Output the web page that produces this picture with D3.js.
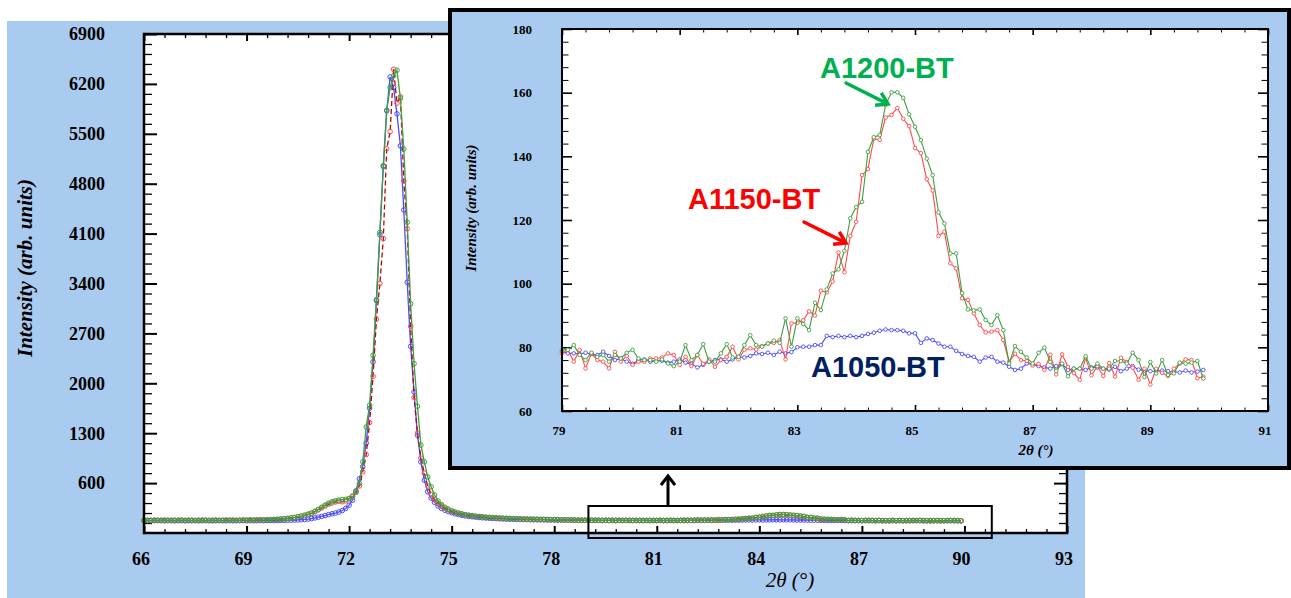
<!DOCTYPE html>
<html><head><meta charset="utf-8">
<script src="https://cdn.jsdelivr.net/npm/d3@7"></script>
<style>body{margin:0;background:#fff;} svg{display:block;}</style>
</head><body>
<svg id="chart" width="1291" height="598"></svg>
<script>
// ---------- DATA ----------
// 2θ scan grid: 66.0 .. 89.9 in 0.1° steps
const twoTheta = d3.range(660, 900).map(i => i / 10);

const intensityA1050 = [
72,73,71,72,74,72,71,73,72,71,
72,73,71,72,72,73,71,72,73,72,
71,72,73,72,71,73,72,72,73,74,
72,73,72,73,74,73,74,75,75,76,
77,78,79,80,82,84,87,90,95,103,
112,122,133,145,158,170,180,195,215,245,
290,360,490,660,830,1160,1650,2300,3160,4086,
5042,5822,6298,6148,5780,5332,4432,3418,2518,1878,
1272,898,642,478,390,330,280,245,220,200,
185,170,158,148,140,133,127,122,117,113,
110,107,104,101,99,97,95,93,92,91,
90,89,88,87,86,85,84,84,83,82,
82,81,81,80,80,79,79,79,78,78,
78.6,78.1,78.1,77.9,78.3,77.9,77.6,78.6,77.3,76.0,
76.5,75.5,74.8,76.0,76.2,75.5,75.8,75.8,75.2,75.5,
76.2,75.2,74.8,73.7,74.5,75.5,76.0,76.2,75.5,76.2,
77.0,76.8,77.3,78.1,77.9,78.3,77.6,78.6,78.1,78.5,
80.0,80.2,80.2,80.7,80.7,83.6,83.2,83.6,83.2,83.6,
83.2,83.6,84.2,84.6,85.2,85.6,85.4,85.4,85.2,84.4,
84.4,81.4,82.8,82.3,81.2,80.2,80.2,78.9,77.9,77.3,
77.0,75.5,76.8,77.0,75.5,75.2,73.9,72.9,73.3,74.9,
74.7,74.1,73.7,73.3,74.1,74.7,72.9,73.3,73.3,72.9,
73.7,73.7,73.3,73.0,73.9,72.5,73.3,74.1,73.0,72.7,
72.5,72.5,72.7,72.5,72.4,72.1,72.7,72.1,72.4,72.9
];

const intensityA1150 = [
80,76,78,81,77,79,82,78,76,80,
79,82,77,78,80,77,79,78,81,76,
78,80,77,79,81,78,80,79,77,81,
80,82,81,83,84,85,85,87,89,92,
95,99,104,110,116,125,135,147,160,176,
198,225,252,280,305,320,335,345,338,350,
380,420,470,560,760,1000,1450,2100,2900,3400,
4030,5290,5530,6406,5930,6020,4840,4170,2800,1800,
1300,950,740,560,440,370,320,280,250,225,
205,190,176,165,155,147,140,134,129,125,
121,117,114,111,109,106,104,102,100,98,
97,95,94,93,92,91,90,89,88,87,
86,85,84,83,82,82,81,80,79,79,
78.1,79.2,75.5,79.2,73.4,78.1,76.0,75.5,73.4,78.6,
75.5,77.3,74.5,75.5,75.5,76.5,76.5,76.8,78.1,77.6,
74.5,77.0,74.1,77.6,74.8,76.2,73.9,76.0,77.0,80.2,
76.2,79.2,79.7,79.3,80.4,81.2,81.4,82.3,76.2,87.5,
87.7,88.5,91.3,90.0,97.8,97.3,100.7,109.8,103.6,115.0,
119.4,134.1,136.0,145.5,145.2,152.2,153.0,155.2,151.8,149.5,
142.6,141.0,132.8,129.3,115.0,116.3,106.4,104.8,95.4,94.9,
90.7,87.0,84.7,84.9,85.4,82.3,75.5,78.0,76.0,75.7,
74.3,74.8,72.9,77.7,71.5,77.8,73.8,71.9,69.8,76.7,
71.2,74.1,71.0,75.1,70.8,76.7,75.4,73.6,69.8,73.3,
68.3,73.3,72.0,71.0,73.3,74.9,76.2,76.0,70.3,70.8
];

const intensityA1200 = [
78,80,77,79,81,78,76,79,80,77,
78,79,77,80,78,76,79,81,78,77,
79,80,78,77,80,81,79,78,80,82,
81,83,82,84,85,84,86,88,90,93,
96,100,105,112,118,128,138,150,165,180,
205,232,262,292,318,338,352,362,368,372,
385,408,480,596,898,1388,1692,2392,3172,4118,
5052,5832,6150,6312,6392,6000,5286,4258,3116,2276,
1678,1132,898,688,548,432,350,300,262,235,
212,195,180,168,158,150,143,137,132,127,
123,119,116,113,110,108,106,104,102,100,
98,97,96,95,94,93,92,91,90,89,
88,87,86,85,84,83,82,81,80,80,
79.2,79.2,80.7,77.6,76.0,78.3,77.0,77.6,75.5,77.6,
76.5,78.3,79.2,76.5,76.0,76.0,75.5,76.2,74.9,74.1,
75.5,80.7,76.0,77.6,81.0,75.5,75.5,78.1,81.0,76.8,
77.0,80.7,83.8,80.7,80.2,81.2,82.1,81.4,89.1,80.2,
89.1,87.3,85.4,94.0,91.7,98.2,103.2,104.5,110.3,120.5,
124.1,125.7,141.4,146.0,146.7,156.1,160.1,160.1,158.4,153.2,
149.3,145.1,139.3,134.1,122.4,118.9,109.5,109.5,97.0,91.9,
91.6,91.9,88.6,87.0,90.1,85.4,74.9,80.4,78.6,76.8,
74.9,78.3,79.9,75.4,72.6,74.9,70.9,73.3,73.3,77.2,
73.3,74.9,73.3,73.3,75.7,75.7,74.9,78.3,76.0,70.7,
75.4,71.8,76.0,71.3,71.8,75.2,74.9,75.2,75.7,70.2
];

const seriesNames = ["A1050-BT", "A1150-BT", "A1200-BT"];

// tick labels
const mainXTicks = [66, 69, 72, 75, 78, 81, 84, 87, 90, 93];
const mainYTicks = [600, 1300, 2000, 2700, 3400, 4100, 4800, 5500, 6200, 6900];
const insetXTicks = [79, 81, 83, 85, 87, 89, 91];
const insetYTicks = [60, 80, 100, 120, 140, 160, 180];

// ---------- DRAW ----------
const svg = d3.select("#chart");
const BG = "#a9cbef";
const SERIF = "'Liberation Serif','Times New Roman',serif";
const SANS = "'Liberation Sans',Arial,sans-serif";

const colors = {
  "A1050-BT": "#4b4bff",
  "A1150-BT": "#ff4a4a",
  "A1200-BT": "#3f9f3f"
};
const valueSets = [intensityA1050, intensityA1150, intensityA1200];
const series = seriesNames.map((n, k) => ({
  name: n,
  points: twoTheta.map((t, i) => ({x: t, y: valueSets[k][i]}))
}));

function drawTicks(g, scale, orient, pos, values, size, width) {
  const ax = orient === "left" ? d3.axisLeft(scale) : orient === "right" ? d3.axisRight(scale)
           : orient === "top" ? d3.axisTop(scale) : d3.axisBottom(scale);
  ax.tickValues(values).tickSize(-size).tickFormat("");
  const tr = (orient === "left" || orient === "right") ? `translate(${pos},0)` : `translate(0,${pos})`;
  const a = g.append("g").attr("transform", tr).call(ax);
  a.select(".domain").remove();
  a.selectAll("line").attr("stroke", "#000").attr("stroke-width", width);
}

// ===== Main panel =====
svg.append("rect").attr("x", 7).attr("y", 21).attr("width", 1078).attr("height", 577).attr("fill", BG);

const mx = d3.scaleLinear().domain([66, 93]).range([144, 1067]);
const my = d3.scaleLinear().domain([-100, 6900]).range([533, 34]);
const main = svg.append("g");
main.append("rect").attr("x", mx(66)).attr("y", my(6900)).attr("width", mx(93) - mx(66))
  .attr("height", my(-100) - my(6900)).attr("fill", "#fff");

const mainXMinor = d3.range(0, 46).filter(i => i % 5 !== 0).map(i => 66 + i * 0.6);
const mainYMinor = d3.range(0, 50).map(i => 40 + i * 140).filter(v => v < 6900 && (v - 600) % 700 !== 0);

drawTicks(main, my, "left", mx(66), mainYTicks, 13, 2);
drawTicks(main, my, "left", mx(66), mainYMinor, 8, 1.3);
drawTicks(main, my, "right", mx(93), mainYTicks, 13, 2);
drawTicks(main, my, "right", mx(93), mainYMinor, 8, 1.3);
drawTicks(main, mx, "bottom", my(-100), mainXTicks, 7, 2);
drawTicks(main, mx, "bottom", my(-100), mainXMinor, 4, 1.3);
drawTicks(main, mx, "top", my(6900), mainXTicks, 7, 2);
drawTicks(main, mx, "top", my(6900), mainXMinor, 4, 1.3);

const mline = d3.line().x(d => mx(d.x)).y(d => my(d.y));
[0, 1, 2].forEach(k => {
  const s = series[k];
  const c = colors[s.name];
  const g = main.append("g");
  g.append("path").datum(s.points).attr("d", mline).attr("fill", "none")
    .attr("stroke", k === 1 ? "#c00000" : c).attr("stroke-width", 1.3)
    .attr("stroke-dasharray", k === 1 ? "5,3" : null);
  g.selectAll("circle").data(s.points).join("circle")
    .attr("cx", d => mx(d.x)).attr("cy", d => my(d.y)).attr("r", 2.3)
    .attr("fill", "none").attr("stroke", c).attr("stroke-width", 1);
});

main.append("rect").attr("x", mx(66)).attr("y", my(6900)).attr("width", mx(93) - mx(66))
  .attr("height", my(-100) - my(6900)).attr("fill", "none").attr("stroke", "#000").attr("stroke-width", 2.5);

main.selectAll("text.ylab").data(mainYTicks).join("text").attr("class", "ylab")
  .attr("x", 105).attr("y", d => my(d)).attr("dy", "0.35em").attr("text-anchor", "end")
  .attr("font-family", SERIF).attr("font-weight", "bold").attr("font-size", 18).text(d => d);
main.selectAll("text.xlab").data(mainXTicks).join("text").attr("class", "xlab")
  .attr("x", d => mx(d) - 3).attr("y", 565).attr("text-anchor", "middle")
  .attr("font-family", SERIF).attr("font-weight", "bold").attr("font-size", 18).text(d => d);

main.append("text").attr("transform", "translate(32,268) rotate(-90)").attr("text-anchor", "middle")
  .attr("font-family", SERIF).attr("font-weight", "bold").attr("font-style", "italic").attr("font-size", 21)
  .text("Intensity (arb. units)");
main.append("text").attr("x", 790).attr("y", 587).attr("text-anchor", "middle")
  .attr("font-family", SERIF).attr("font-style", "italic").attr("font-size", 21)
  .text("2θ (°)");

// zoom box + arrow
main.append("rect").attr("x", mx(79)).attr("y", 506).attr("width", mx(90.8) - mx(79)).attr("height", 32)
  .attr("fill", "none").attr("stroke", "#000").attr("stroke-width", 2);
main.append("line").attr("x1", 668).attr("y1", 506).attr("x2", 668).attr("y2", 476)
  .attr("stroke", "#000").attr("stroke-width", 3);
main.append("path").attr("d", "M661,485 L668,476 L675,485").attr("fill", "none")
  .attr("stroke", "#000").attr("stroke-width", 3);

// ===== Inset =====
const inset = svg.append("g");
inset.append("rect").attr("x", 450).attr("y", 10).attr("width", 839).attr("height", 458)
  .attr("fill", BG).attr("stroke", "#000").attr("stroke-width", 4);

const ix = d3.scaleLinear().domain([79, 91]).range([562, 1268]);
const iy = d3.scaleLinear().domain([60, 180]).range([411, 29]);
inset.append("rect").attr("x", ix(79)).attr("y", iy(180)).attr("width", ix(91) - ix(79))
  .attr("height", iy(60) - iy(180)).attr("fill", "#fff");

const insetXMinor = d3.range(0, 31).filter(i => i % 5 !== 0).map(i => 79 + i * 0.4);
const insetYMinor = d3.range(0, 31).filter(i => i % 5 !== 0).map(i => 60 + i * 4);
drawTicks(inset, iy, "left", ix(79), insetYTicks, 10, 1.6);
drawTicks(inset, iy, "left", ix(79), insetYMinor, 6.5, 1);
drawTicks(inset, iy, "right", ix(91), insetYTicks, 10, 1.6);
drawTicks(inset, iy, "right", ix(91), insetYMinor, 6.5, 1);
drawTicks(inset, ix, "bottom", iy(60), insetXTicks, 6, 1.6);
drawTicks(inset, ix, "bottom", iy(60), insetXMinor, 3.5, 1);
drawTicks(inset, ix, "top", iy(180), insetXTicks, 6, 1.6);
drawTicks(inset, ix, "top", iy(180), insetXMinor, 3.5, 1);

const iline = d3.line().x(d => ix(d.x)).y(d => iy(d.y));
[0, 1, 2].forEach(k => {
  const s = series[k];
  const c = colors[s.name];
  const pts = s.points.filter(d => d.x >= 78.999);
  const g = inset.append("g");
  g.append("path").datum(pts).attr("d", iline).attr("fill", "none").attr("stroke", c).attr("stroke-width", 1.1);
  g.selectAll("circle").data(pts).join("circle")
    .attr("cx", d => ix(d.x)).attr("cy", d => iy(d.y)).attr("r", 1.8)
    .attr("fill", "#fff").attr("stroke", c).attr("stroke-width", 0.9);
});

inset.append("rect").attr("x", ix(79)).attr("y", iy(180)).attr("width", ix(91) - ix(79))
  .attr("height", iy(60) - iy(180)).attr("fill", "none").attr("stroke", "#000").attr("stroke-width", 2);

inset.selectAll("text.ylab").data(insetYTicks).join("text").attr("class", "ylab")
  .attr("x", 532).attr("y", d => iy(d)).attr("dy", "0.35em").attr("text-anchor", "end")
  .attr("font-family", SERIF).attr("font-weight", "bold").attr("font-size", 13).text(d => d);
inset.selectAll("text.xlab").data(insetXTicks).join("text").attr("class", "xlab")
  .attr("x", d => ix(d) - 3).attr("y", 435).attr("text-anchor", "middle")
  .attr("font-family", SERIF).attr("font-weight", "bold").attr("font-size", 13).text(d => d);

inset.append("text").attr("transform", "translate(476,208) rotate(-90)").attr("text-anchor", "middle")
  .attr("font-family", SERIF).attr("font-weight", "bold").attr("font-style", "italic").attr("font-size", 15)
  .text("Intensity (arb. units)");
inset.append("text").attr("x", 1036).attr("y", 455).attr("text-anchor", "middle")
  .attr("font-family", SERIF).attr("font-weight", "bold").attr("font-style", "italic").attr("font-size", 15)
  .text("2θ (°)");

// labels + arrows
function arrow(x1, y1, x2, y2, color, w, head) {
  const ang = Math.atan2(y2 - y1, x2 - x1);
  inset.append("line").attr("x1", x1).attr("y1", y1).attr("x2", x2 - Math.cos(ang) * 2).attr("y2", y2 - Math.sin(ang) * 2)
    .attr("stroke", color).attr("stroke-width", w).attr("stroke-linecap", "round");
  const a1 = ang + Math.PI * 0.82, a2 = ang - Math.PI * 0.82;
  inset.append("path")
    .attr("d", `M${x2 + Math.cos(a1) * head},${y2 + Math.sin(a1) * head} L${x2},${y2} L${x2 + Math.cos(a2) * head},${y2 + Math.sin(a2) * head}`)
    .attr("fill", "none").attr("stroke", color).attr("stroke-width", w).attr("stroke-linejoin", "miter");
}
const labelStyle = (t, color) => t.attr("font-family", SANS).attr("font-weight", "bold")
  .attr("font-size", 29).attr("fill", color);
labelStyle(inset.append("text").attr("x", 820).attr("y", 78).text("A1200-BT"), "#00b050");
labelStyle(inset.append("text").attr("x", 688).attr("y", 209).text("A1150-BT"), "#ff0000");
labelStyle(inset.append("text").attr("x", 811).attr("y", 377).text("A1050-BT"), "#002060");
arrow(846, 83, 888, 104, "#00b050", 3.5, 13);
arrow(804, 222, 846, 243, "#ff0000", 3.5, 13);
</script>
</body></html>
